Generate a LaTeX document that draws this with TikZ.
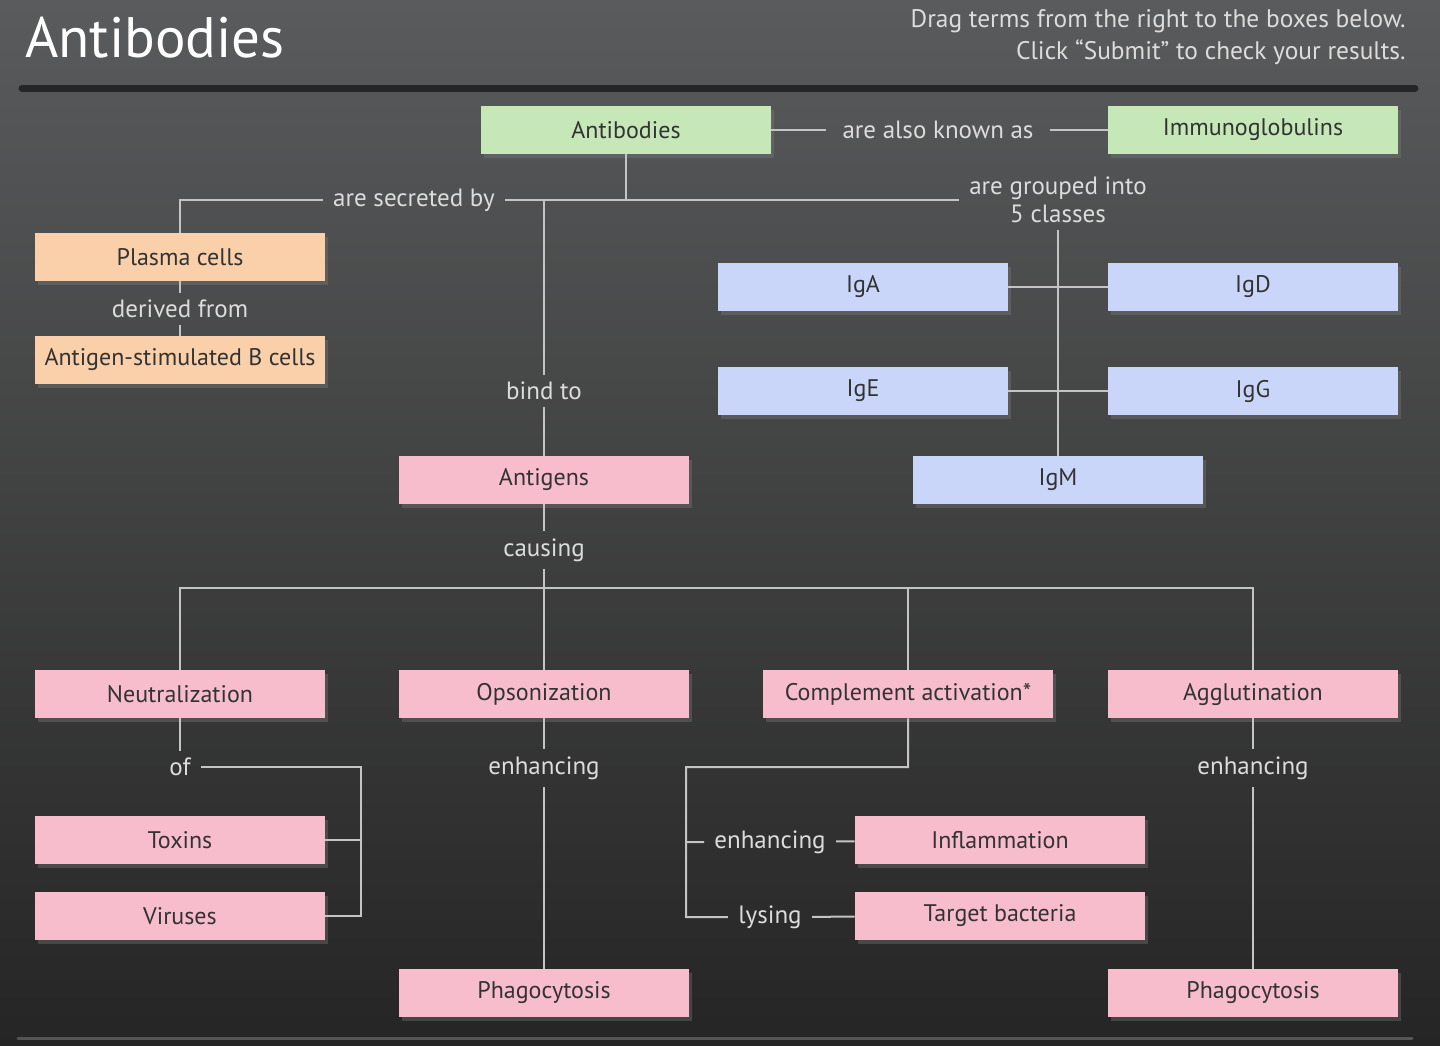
\documentclass[tikz,border=0pt]{standalone}
\usepackage{fontspec}
\setmainfont{PT Sans}
\usetikzlibrary{positioning,calc,shadows}
\usepackage{xcolor}

\definecolor{bgtop}{HTML}{5A5B5C}
\definecolor{bgbot}{HTML}{252525}
\definecolor{boxgreen}{HTML}{C6E8B8}
\definecolor{boxpeach}{HTML}{F9D0A9}
\definecolor{boxblue}{HTML}{C9D6FA}
\definecolor{boxpink}{HTML}{F8BDCC}
\definecolor{wiregray}{HTML}{C4C4C4}
\definecolor{labelgray}{HTML}{DCDCDC}

\begin{document}
\begin{tikzpicture}[x=0.5pt, y=-0.5pt, font=\fontsize{12}{14}\selectfont]
    % Styles
    \tikzstyle{term} = [rectangle, minimum width=145pt, minimum height=24pt, inner sep=0pt, text=black!80, drop shadow={shadow xshift=1.5pt, shadow yshift=-2pt, opacity=0.35}]
    \tikzstyle{link} = [inner xsep=5pt, inner ysep=3.5pt, text=labelgray, align=center, font=\fontsize{12.5}{14}\selectfont]
    \tikzstyle{wire} = [draw=wiregray, line width=1pt]

    % Background
    \useasboundingbox (0,0) rectangle (1440,1045);
    \shade[top color=bgtop, bottom color=bgbot] (0,0) rectangle (1440,1045);
    \draw[line width=3.5pt, black!85, line cap=round] (22,88) -- (1415,88);
    \draw[line width=1.5pt, white!22!bgbot, line cap=round] (18,1038) -- (1412,1038);
    \node[anchor=base west, inner sep=0pt, text=white!92, font=\fontsize{28.5}{30}\selectfont] (title) at (25,57) {Antibodies};
    \node[anchor=north east, inner sep=0pt, align=right, text=labelgray, font=\fontsize{12.7}{16}\selectfont] (hint) at (1406,9) {Drag terms from the right to the boxes below.\\Click “Submit” to check your results.};

    % Terms
    \node[term, fill=boxgreen] (antibodies) at (626,130) {Antibodies};
    \node[term, fill=boxgreen] (immuno) at (1253,130) {Immunoglobulins};
    \node[term, fill=boxpeach] (plasma) at (180,257) {Plasma cells};
    \node[term, fill=boxpeach] (bcells) at (180,360) {Antigen-stimulated B cells};
    \node[term, fill=boxpink] (antigens) at (544,480) {Antigens};
    \node[term, fill=boxblue] (iga) at (863,287) {IgA};
    \node[term, fill=boxblue] (igd) at (1253,287) {IgD};
    \node[term, fill=boxblue] (ige) at (863,391) {IgE};
    \node[term, fill=boxblue] (igg) at (1253,391) {IgG};
    \node[term, fill=boxblue] (igm) at (1058,480) {IgM};
    \node[term, fill=boxpink] (neutral) at (180,694) {Neutralization};
    \node[term, fill=boxpink] (opson) at (544,694) {Opsonization};
    \node[term, fill=boxpink] (complement) at (908,694) {Complement activation*};
    \node[term, fill=boxpink] (agglut) at (1253,694) {Agglutination};
    \node[term, fill=boxpink] (toxins) at (180,840) {Toxins};
    \node[term, fill=boxpink] (viruses) at (180,916) {Viruses};
    \node[term, fill=boxpink] (inflam) at (1000,840) {Inflammation};
    \node[term, fill=boxpink] (target) at (1000,916) {Target bacteria};
    \node[term, fill=boxpink] (phagoA) at (544,993) {Phagocytosis};
    \node[term, fill=boxpink] (phagoB) at (1253,993) {Phagocytosis};

    % Linking phrases
    \node[link, inner xsep=8pt] (known) at (938,130) {are also known as};
    \node[link] (secreted) at (414,200) {are secreted by};
    \node[link] (derived) at (180,309) {derived from};
    \node[link] (grouped) at (1058,200) {are grouped into\\5 classes};
    \node[link] (bind) at (544,391) {bind to};
    \node[link] (causing) at (544,550) {causing};
    \node[link] (of) at (180,767) {of};
    \node[link] (enhA) at (544,768) {enhancing};
    \node[link] (enhB) at (770,842) {enhancing};
    \node[link] (lysing) at (770,917) {lysing};
    \node[link] (enhC) at (1253,768) {enhancing};

    \coordinate (bus) at (544,588);
    \coordinate (bracket) at (361,767);
    \coordinate (cbend) at (686,767);

    % Connectors
    \draw[wire] (antibodies) -- (known) -- (immuno);
    \draw[wire] (antibodies.south) -- (antibodies.south |- secreted);
    \draw[wire] (secreted) -- (grouped);
    \draw[wire] (secreted) -| (plasma);
    \draw[wire] (plasma) -- (derived) -- (bcells);
    \draw[wire] (bind |- secreted) -- (bind) -- (antigens);
    \draw[wire] (grouped) -- (igm);
    \draw[wire] (iga) -- (igd);
    \draw[wire] (ige) -- (igg);

    \draw[wire] (antigens) -- (causing) -- (opson);
    \draw[wire] (neutral) |- (bus) -| (agglut);
    \draw[wire] (complement) -- (complement |- bus);

    \draw[wire] (neutral) -- (of);
    \draw[wire] (of) -| (bracket |- viruses) -- (viruses);
    \draw[wire] (toxins) -- (toxins -| bracket);
    \draw[wire] (opson) -- (enhA) -- (phagoA);
    \draw[wire] (complement) |- (cbend) |- (lysing) -- (target);
    \draw[wire] (enhB -| cbend) -- (enhB) -- (inflam);
    \draw[wire] (agglut) -- (enhC) -- (phagoB);
\end{tikzpicture}
\end{document}
